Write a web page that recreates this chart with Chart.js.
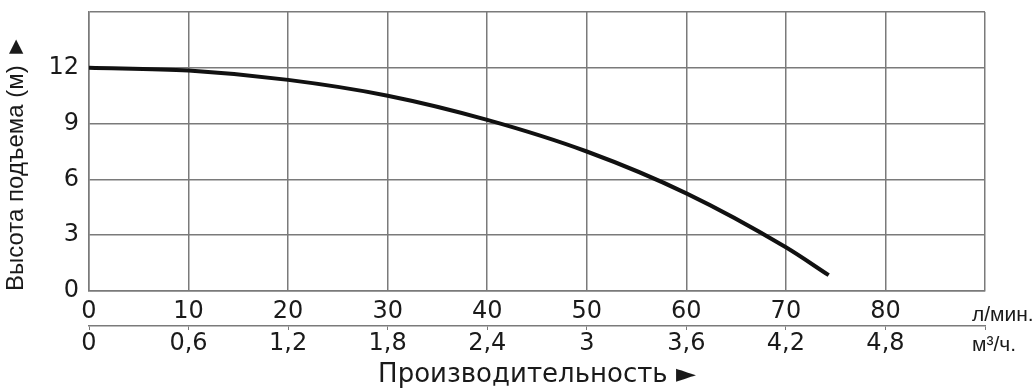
<!DOCTYPE html>
<html>
<head>
<meta charset="utf-8">
<script src="https://cdn.jsdelivr.net/npm/chart.js"></script>
<style>
  html, body { margin: 0; padding: 0; background: #fff; }
  #wrap { width: 1036px; height: 388px; }
</style>
</head>
<body>
<div id="wrap"><canvas id="pumpChart"></canvas></div>
<script>
// flow in l/min and head in metres
var flow = [0, 10, 20, 30, 40, 50, 60, 70, 74.3];
var head = [12.0, 11.85, 11.35, 10.5, 9.2, 7.5, 5.25, 2.35, 0.85];

// axis ranges / tick steps
var flowMax = 90, flowStep = 10;
var m3Max = 5.4, m3Step = 0.6;
var headMax = 15, headStep = 3;

var gridColor = "#7a7a7a";
var textColor = "#1a1a1a";
var tickFont = "'DejaVu Sans', sans-serif";
var labelFont = "'Liberation Sans', Arial, sans-serif";

// unit captions to the right of the two x axes
var unitLabels = {
  id: "unitLabels",
  afterDraw: function(chart) {
    var ctx = chart.ctx;
    var sx = chart.scales.x, sx2 = chart.scales.x2;
    ctx.save();
    ctx.fillStyle = textColor;
    ctx.font = "21px " + labelFont;
    ctx.textAlign = "left";
    ctx.textBaseline = "alphabetic";
    ctx.fillText("л/мин.", sx.right - 13, sx.top + 30);
    ctx.fillText("м³/ч.", sx2.right - 13, sx2.top + 25);
    ctx.restore();
  }
};

var ctx = document.getElementById("pumpChart");
var pumpChart = new Chart(ctx, {
  type: "line",
  data: {
    datasets: [
      {
        data: flow.map(function(f, i) { return { x: f, y: head[i] }; }),
        borderColor: "#111",
        borderWidth: 4,
        pointRadius: 0,
        fill: false,
        cubicInterpolationMode: "monotone"
      }
    ]
  },
  options: {
    responsive: true,
    maintainAspectRatio: false,
    animation: false,
    layout: { padding: { left: 2, right: 51, top: 12, bottom: 0 } },
    plugins: { legend: { display: false }, tooltip: { enabled: false } },
    scales: {
      x: {
        type: "linear",
        position: "bottom",
        min: 0,
        max: flowMax,
        afterFit: function(scale) { scale.height = 35; },
        ticks: {
          stepSize: flowStep,
          color: textColor,
          font: { family: tickFont, size: 24, lineHeight: 1 },
          padding: 9,
          maxRotation: 0,
          callback: function(v) { return v >= flowMax ? "" : v; }
        },
        grid: { color: gridColor, lineWidth: 1.5, drawTicks: false },
        border: { color: gridColor, width: 1.5 }
      },
      x2: {
        type: "linear",
        position: "bottom",
        min: 0,
        max: m3Max,
        afterFit: function(scale) { scale.height = 62; },
        ticks: {
          stepSize: m3Step,
          color: textColor,
          font: { family: tickFont, size: 24, lineHeight: 1 },
          padding: 2,
          maxRotation: 0,
          callback: function(v) {
            if (v >= m3Max - 0.01) return "";
            return String(Math.round(v * 10) / 10).replace(".", ",");
          }
        },
        grid: { drawOnChartArea: false, color: gridColor, tickLength: 4 },
        border: { color: gridColor, width: 1.5 },
        title: {
          display: true,
          text: "Производительность ►",
          color: textColor,
          font: { family: tickFont, size: 26, lineHeight: 1 },
          padding: { top: 0, bottom: 0 }
        }
      },
      y: {
        min: 0,
        max: headMax,
        afterFit: function(scale) {
          scale.width = 87;
          scale.paddingTop = 0;
          scale.paddingBottom = 0;
        },
        ticks: {
          stepSize: headStep,
          color: textColor,
          font: { family: tickFont, size: 24 },
          padding: 10,
          callback: function(v) { return v >= headMax ? "" : v; }
        },
        grid: { color: gridColor, lineWidth: 1.5, drawTicks: false },
        border: { color: gridColor, width: 1.5 },
        title: {
          display: true,
          text: "Высота подъема (м) ►",
          align: "start",
          color: textColor,
          font: { family: labelFont, size: 24 },
          padding: { top: 0, bottom: 0 }
        }
      }
    }
  },
  plugins: [unitLabels]
});
</script>
</body>
</html>
